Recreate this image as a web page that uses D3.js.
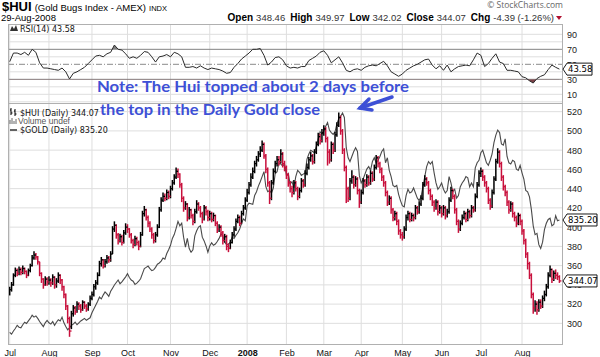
<!DOCTYPE html>
<html><head><meta charset="utf-8">
<script src="https://cdn.jsdelivr.net/npm/d3@7"></script>
<style>body{margin:0;background:#fff}svg{display:block}</style>
</head><body><svg id="c" width="600" height="357"></svg>
<script>
// ---------- data ----------
const monthLabels=["Jul","Aug","Sep","Oct","Nov","Dec","2008","Feb","Mar","Apr","May","Jun","Jul","Aug"];
const monthDays=[21,23,19,23,21,20,21,20,20,22,21,21,22,21]; // trading sessions per month
const huiClose=[
335,340,350,355,352,356,353,357,354,350,355,360,368,371,369,364,352,346,340,346,343,
345,342,348,340,344,350,345,338,330,318,305,292,310,316,312,320,318,314,322,318,315,320,326,
330,338,342,350,362,366,360,364,368,366,372,398,402,392,386,390,384,394,400,
398,392,386,382,388,384,380,392,414,418,410,404,398,392,386,392,400,418,428,432,430,436,432,
440,446,452,458,455,444,430,420,424,410,418,412,406,416,424,420,414,408,420,416,410,
414,408,412,404,398,400,394,386,390,380,378,384,392,398,406,410,404,414,420,428,
436,444,452,458,466,470,476,480,486,474,460,446,430,446,458,466,470,468,476,466,462,
454,446,440,436,446,440,432,438,448,444,456,462,470,474,468,478,486,494,490,498,
502,492,478,470,486,480,496,506,514,500,480,462,440,430,448,452,444,450,438,426,
436,448,444,452,446,456,450,462,472,466,460,452,446,436,426,430,418,410,414,406,396,392,
390,398,410,414,408,412,410,420,416,424,430,444,450,446,438,432,426,420,426,416,420,
414,420,412,416,428,438,432,418,406,398,404,410,414,408,416,412,420,418,432,444,456,
458,452,446,440,428,422,436,450,468,478,466,452,442,436,426,418,424,414,410,404,412,406,
396,386,372,362,350,330,316,320,314,322,318,326,330,338,350,356,346,352,350,348.46,344.07];
const huiHigh=[
338,343,352,358,357,359,358,360,358,355,357,362,371,375,373,370,364,353,347,349,348,
349,347,351,349,347,353,351,346,339,331,319,307,313,319,318,323,322,320,324,323,320,322,329,
333,341,345,353,365,369,367,367,371,370,375,401,406,403,394,393,392,397,404,
403,399,394,388,391,390,386,395,417,422,419,412,406,400,394,395,403,421,431,436,435,439,438,
443,449,455,462,461,456,446,432,427,425,421,419,414,419,428,426,422,416,423,422,418,
417,416,415,413,406,403,402,396,393,392,383,387,395,401,409,413,412,417,423,431,
440,447,456,462,469,474,479,484,490,488,476,462,448,449,461,469,474,474,481,478,469,
464,456,448,443,449,448,442,441,451,450,459,466,473,478,476,481,489,498,497,502,
506,504,494,481,489,488,499,509,519,516,502,482,464,442,451,459,454,453,452,440,
439,451,450,455,454,459,458,465,475,474,468,462,454,448,438,433,432,420,417,416,408,398,
395,401,413,417,416,415,414,423,422,427,433,447,454,452,448,440,434,428,429,428,423,
422,423,422,419,431,442,440,434,420,408,407,413,417,416,419,418,423,422,435,447,459,
462,460,454,448,442,430,439,453,471,482,480,468,454,444,438,428,427,426,416,412,415,414,
408,398,388,374,364,352,332,324,323,325,325,329,334,341,353,360,357,355,356,353,349.97];
const huiLow=[
329,333,339,348,349,350,350,351,351,347,349,353,359,366,366,361,349,342,336,339,339,
340,338,340,336,337,342,341,334,326,314,300,286,294,307,309,311,314,311,313,315,312,313,318,
324,328,335,340,349,359,357,358,362,363,364,372,395,388,382,384,381,383,392,
394,389,383,378,380,381,376,379,391,411,407,400,395,388,383,384,390,399,416,426,427,428,429,
430,438,444,450,451,441,426,416,418,406,408,409,402,404,414,417,410,404,407,412,406,
407,405,406,401,394,395,390,382,384,376,374,377,383,390,396,404,401,403,412,418,
426,434,442,450,456,463,468,473,478,471,456,442,424,428,444,456,463,464,466,462,458,
450,442,436,431,434,437,428,430,436,441,442,454,460,468,465,466,476,484,486,488,
495,488,464,466,468,476,478,494,504,496,476,458,425,426,428,445,440,442,434,420,
424,434,441,442,443,444,447,448,460,462,456,448,442,432,422,423,414,406,407,402,392,388,
386,388,396,407,405,406,406,408,413,414,422,428,442,443,434,428,422,416,418,412,414,
410,412,408,410,414,426,429,414,402,394,396,402,408,405,406,409,410,415,416,430,442,
452,448,442,436,424,418,420,434,448,466,462,448,438,432,422,414,416,410,406,400,402,402,
392,382,368,356,346,326,310,312,309,312,315,316,323,328,336,348,342,344,346,345,342.02];
const goldClose=[
657,654,659,663,668,665,664,669,673,671,675,679,684,681,683,679,674,670,666,672,676,
672,670,674,668,673,677,675,681,672,666,661,664,668,670,673,669,672,675,677,679,676,678,680,
688,694,700,706,713,710,716,721,718,714,722,727,732,736,740,734,737,741,745,
750,744,740,738,733,735,738,742,750,758,760,762,758,755,756,760,765,767,770,775,773,782,788,
795,806,812,822,833,826,830,808,792,806,790,784,788,810,818,824,826,808,802,794,784,
794,799,795,797,801,806,813,810,800,796,797,800,808,806,811,815,821,830,837,834,
858,862,861,860,874,880,889,896,904,912,888,880,882,878,886,909,912,926,924,921,924,
906,909,892,896,886,904,914,911,906,908,910,932,940,946,944,942,952,964,975,972,
976,984,990,978,974,971,975,988,996,1000,1005,998,950,934,928,936,944,950,944,906,
894,900,908,916,920,914,928,934,926,930,936,944,948,926,934,914,904,890,888,890,876,866,
858,856,874,884,878,880,886,878,870,866,872,888,904,920,928,924,928,910,894,884,888,
894,884,878,882,904,894,880,884,870,874,888,894,898,904,902,888,894,888,918,926,930,
942,946,936,926,922,930,940,958,970,978,974,956,954,964,936,926,924,930,928,916,914,922,
910,900,882,880,872,852,826,812,814,796,790,800,820,830,836,838,826,828,842,834,835.2];
// RSI(14), read every second session
const rsiValues=[
53.5,65,65,63,66,62,70,66,52,45,
45,44,43,42,45,40,30.4,38,40,43,
46,51,56,61,62,60,64,66,75.7,70,
69,64,58,60,58,62,67,66,60,53,
60,61,63,60,66,64,60,46,46,47,
45,48,45,43,45,44,43,41,38,39,
46,51,57,61,65,70,70,71,62,49,
53,59,60,56,48,45,46,45,47,47,
55,58,61,66,68,62,52,56,60,52,
42,40,43,44,42,46,48,49,48,51,
54,48,40,37,34,37,42,45,48,50,
53,56,57,49,44,48,42,49,40,44,
47,48,49,48,56,65,62,47,51,58,
64,53,51,42,42,41,40,33.5,32,28,
25,31,34,36,43,49,46,43.58];
const huiTicks=[300,320,340,360,380,400,420,440,460,480,500,520];
const rsiTicks=[10,30,50,70,90];
const headerLabels=["Open","High","Low","Close","Chg"];
const headerValues=["348.46","349.97","342.02","344.07","-4.39 (-1.26%)"];

// ---------- layout ----------
const svg=d3.select("#c");
const L=8,R=563,rT=24,rB=103,mT=103,mB=345;
const N=huiClose.length;
const RED="#c8103c", GRID="#dedede", FRAME="#b0b0b0";
const x=d3.scaleLinear().domain([0,N-1]).range([9.7,559.4]);
const yH=d3.scaleLinear().domain([277.5,529]).range([mB,mT]);
const yG=d3.scaleLinear().domain([636.8,1020.9]).range([mB,mT]);
const yR=d3.scaleLinear().domain([0,100]).range([101.8,26.8]);
const monthStart=[];{let a=0;monthDays.forEach(d=>{monthStart.push(a);a+=d;});}

const defs=svg.append("defs");
defs.append("clipPath").attr("id","cm").append("rect").attr("x",L).attr("y",mT).attr("width",R-L).attr("height",mB-mT);
defs.append("clipPath").attr("id","cr").append("rect").attr("x",L).attr("y",rT).attr("width",R-L).attr("height",rB-rT);
defs.append("clipPath").attr("id","cOB").append("rect").attr("x",L).attr("y",rT).attr("width",R-L).attr("height",yR(70)-rT);
defs.append("clipPath").attr("id","cOS").append("rect").attr("x",L).attr("y",yR(30)).attr("width",R-L).attr("height",rB-yR(30));

// ---------- header ----------
const hdr=svg.append("g").attr("font-family","Liberation Sans, Arial, sans-serif").attr("fill","#000");
const t1=hdr.append("text").attr("x",2).attr("y",11);
t1.append("tspan").attr("font-weight","bold").attr("font-size",13).text("$HUI");
t1.append("tspan").attr("font-size",9.5).attr("dx",3).text("(Gold Bugs Index - AMEX)");
t1.append("tspan").attr("font-size",7.5).attr("dx",3).text("INDX");
hdr.append("text").attr("x",1).attr("y",21).attr("font-size",9.5).text("29-Aug-2008");
hdr.append("text").attr("x",R).attr("y",8).attr("text-anchor","end").attr("font-size",8.5).attr("fill","#666").attr("font-family","Open Sans, sans-serif").text("\u00A9 StockCharts.com");
const t2=hdr.append("text").attr("x",R-9).attr("y",21).attr("text-anchor","end");
headerLabels.forEach((l,i)=>{
  t2.append("tspan").attr("font-weight","bold").attr("font-size",10).attr("dx",i?5:0).text(l);
  t2.append("tspan").attr("font-size",9.5).attr("fill","#333").attr("dx",3).text(headerValues[i]);
});
hdr.append("path").attr("d",`M${R-7},16 L${R-1},16 L${R-4},20 Z`).attr("fill","#b01030");

// ---------- panels ----------
svg.append("rect").attr("x",L).attr("y",rT).attr("width",R-L).attr("height",rB-rT).attr("fill","#fff");
svg.append("rect").attr("x",L).attr("y",mT).attr("width",R-L).attr("height",mB-mT).attr("fill","#fff");

// grids
const g=svg.append("g").attr("stroke",GRID).attr("stroke-width",1);
monthStart.forEach(i=>{
  g.append("line").attr("x1",x(i)).attr("x2",x(i)).attr("y1",rT).attr("y2",rB);
  g.append("line").attr("x1",x(i)).attr("x2",x(i)).attr("y1",mT).attr("y2",mB);
});
d3.range(0,100,10).forEach(v=>{ if(v!==30&&v!==50&&v!==70) g.append("line").attr("x1",L).attr("x2",R).attr("y1",yR(v)).attr("y2",yR(v)); });
huiTicks.forEach(v=>g.append("line").attr("x1",L).attr("x2",R).attr("y1",yH(v)).attr("y2",yH(v)));

// RSI reference lines
svg.append("line").attr("x1",L).attr("x2",R).attr("y1",yR(70)).attr("y2",yR(70)).attr("stroke","#8a8a8a");
svg.append("line").attr("x1",L).attr("x2",R).attr("y1",yR(30)).attr("y2",yR(30)).attr("stroke","#8a8a8a");
svg.append("line").attr("x1",L).attr("x2",R).attr("y1",yR(50)).attr("y2",yR(50)).attr("stroke","#8a8a8a").attr("stroke-dasharray","6,2,1,2");

// RSI fills + line
const rx=(d,i)=>x(i*2);
svg.append("path").datum(rsiValues).attr("clip-path","url(#cOB)")
  .attr("d",d3.area().x(rx).y0(yR(70)).y1(d=>yR(d))).attr("fill","#7d7d7d");
svg.append("path").datum(rsiValues).attr("clip-path","url(#cOS)")
  .attr("d",d3.area().x(rx).y0(yR(30)).y1(d=>yR(d))).attr("fill","#7a4046");
svg.append("path").datum(rsiValues).attr("clip-path","url(#cr)")
  .attr("d",d3.line().x(rx).y(d=>yR(d))).attr("fill","none").attr("stroke","#2a2a2a").attr("stroke-width",1);

// gold line
svg.append("path").datum(goldClose).attr("clip-path","url(#cm)")
  .attr("d",d3.line().x((d,i)=>x(i)).y(d=>yG(d))).attr("fill","none").attr("stroke","#4a4a4a").attr("stroke-width",1.1);

// HUI OHLC bars
const bars=svg.append("g").attr("clip-path","url(#cm)");
const col=i=>(i>0&&huiClose[i]<huiClose[i-1])?RED:"#000";
bars.selectAll("line.v").data(huiClose).join("line").attr("class","v")
  .attr("x1",(d,i)=>x(i)).attr("x2",(d,i)=>x(i))
  .attr("y1",(d,i)=>yH(huiHigh[i])).attr("y2",(d,i)=>yH(huiLow[i]))
  .attr("stroke",(d,i)=>col(i)).attr("stroke-width",1.5);
bars.selectAll("line.c").data(huiClose).join("line").attr("class","c")
  .attr("x1",(d,i)=>x(i)).attr("x2",(d,i)=>x(i)+2)
  .attr("y1",d=>yH(d)).attr("y2",d=>yH(d))
  .attr("stroke",(d,i)=>col(i)).attr("stroke-width",1.3);

// frames
svg.append("rect").attr("x",L+0.5).attr("y",rT+0.5).attr("width",R-L-1).attr("height",rB-rT).attr("fill","none").attr("stroke",FRAME);
svg.append("rect").attr("x",L+0.5).attr("y",mT+0.5).attr("width",R-L-1).attr("height",mB-mT-1).attr("fill","none").attr("stroke",FRAME);

// ---------- axes ----------
const axFont="Liberation Sans, Arial, sans-serif";
const ax=svg.append("g").attr("transform",`translate(0,${mB})`)
  .call(d3.axisBottom(x).tickValues(monthStart).tickFormat((d,i)=>monthLabels[i]).tickSize(0).tickPadding(5));
ax.select(".domain").remove();
ax.selectAll("text").attr("font-family",axFont).attr("font-size",9).attr("fill","#111")
  .attr("font-weight",(d,i)=>monthLabels[i]==="2008"?"bold":"normal");

const ah=svg.append("g").attr("transform",`translate(${R},0)`)
  .call(d3.axisRight(yH).tickValues(huiTicks).tickSize(0).tickPadding(4));
ah.select(".domain").remove();
ah.selectAll("text").attr("font-family",axFont).attr("font-size",9).attr("fill","#222");

const ar=svg.append("g").attr("transform",`translate(${R},0)`)
  .call(d3.axisRight(yR).tickValues(rsiTicks).tickSize(0).tickPadding(4));
ar.select(".domain").remove();
ar.selectAll("text").attr("font-family",axFont).attr("font-size",9).attr("fill","#222");

// value tags (drawn over the axis labels, as in the original)
function tag(yc,label,w){
  const gg=svg.append("g");
  gg.append("path").attr("d",`M${R},${yc} L${R+4},${yc-6} L${R+w},${yc-6} L${R+w},${yc+6} L${R+4},${yc+6} Z`)
    .attr("fill","#fff").attr("stroke","#000").attr("stroke-width",0.9);
  gg.append("text").attr("x",R+5).attr("y",yc+3.3).attr("font-family","DejaVu Sans, sans-serif")
    .attr("font-size",8.5).attr("fill","#000").text(label);
}
tag(yR(rsiValues[rsiValues.length-1]),rsiValues[rsiValues.length-1].toFixed(2),29);
tag(yG(goldClose[N-1]),goldClose[N-1].toFixed(2),34);
tag(yH(huiClose[N-1]),huiClose[N-1].toFixed(2),34);

// ---------- legends ----------
const lg=svg.append("g").attr("font-family","DejaVu Sans, sans-serif").attr("font-size",8).attr("fill","#111");
lg.append("path").attr("d","M10,31 L12,26 L14,29 L16,25 L18,31 Z").attr("fill","#333");
lg.append("text").attr("x",20).attr("y",31.5).text("RSI(14) "+rsiValues[rsiValues.length-1].toFixed(2));
lg.append("path").attr("d","M11,108 V115 M10,110 H11 M11,113 H12.5 M15,109 V116 M14,111 H15 M15,114 H16.5").attr("stroke","#000").attr("fill","none");
lg.append("text").attr("x",20).attr("y",115.5).text("$HUI (Daily) "+huiClose[N-1].toFixed(2));
lg.append("path").attr("d","M10,124 V120 M12,124 V118 M14,124 V121 M16,124 V119").attr("stroke","#666").attr("fill","none");
lg.append("text").attr("x",18).attr("y",124).attr("font-family","Liberation Sans, Arial, sans-serif").attr("font-size",8.5).attr("fill","#555").text("Volume undef");
lg.append("line").attr("x1",10).attr("x2",17).attr("y1",130).attr("y2",130).attr("stroke","#333").attr("stroke-width",1.5);
lg.append("text").attr("x",20).attr("y",133).text("$GOLD (Daily) "+goldClose[N-1].toFixed(2));

// ---------- annotation ----------
const BLUE="#3d50d6";
const an=svg.append("g").attr("font-family","Lato, Open Sans, sans-serif").attr("font-weight","bold").attr("font-size",16).attr("fill",BLUE);
an.append("text").attr("x",97).attr("y",92).attr("textLength",312).attr("lengthAdjust","spacingAndGlyphs").text("Note: The Hui topped about 2 days before");
an.append("text").attr("x",100).attr("y",115).attr("textLength",220).attr("lengthAdjust","spacingAndGlyphs").text("the top in the Daily Gold close");
const ag=svg.append("g").attr("stroke",BLUE).attr("stroke-width",3.5).attr("stroke-linecap","round").attr("fill","none");
ag.append("path").attr("d","M392,97 L360,108");
ag.append("path").attr("d","M369,99 L360,108 L372,110");
</script></body></html>
